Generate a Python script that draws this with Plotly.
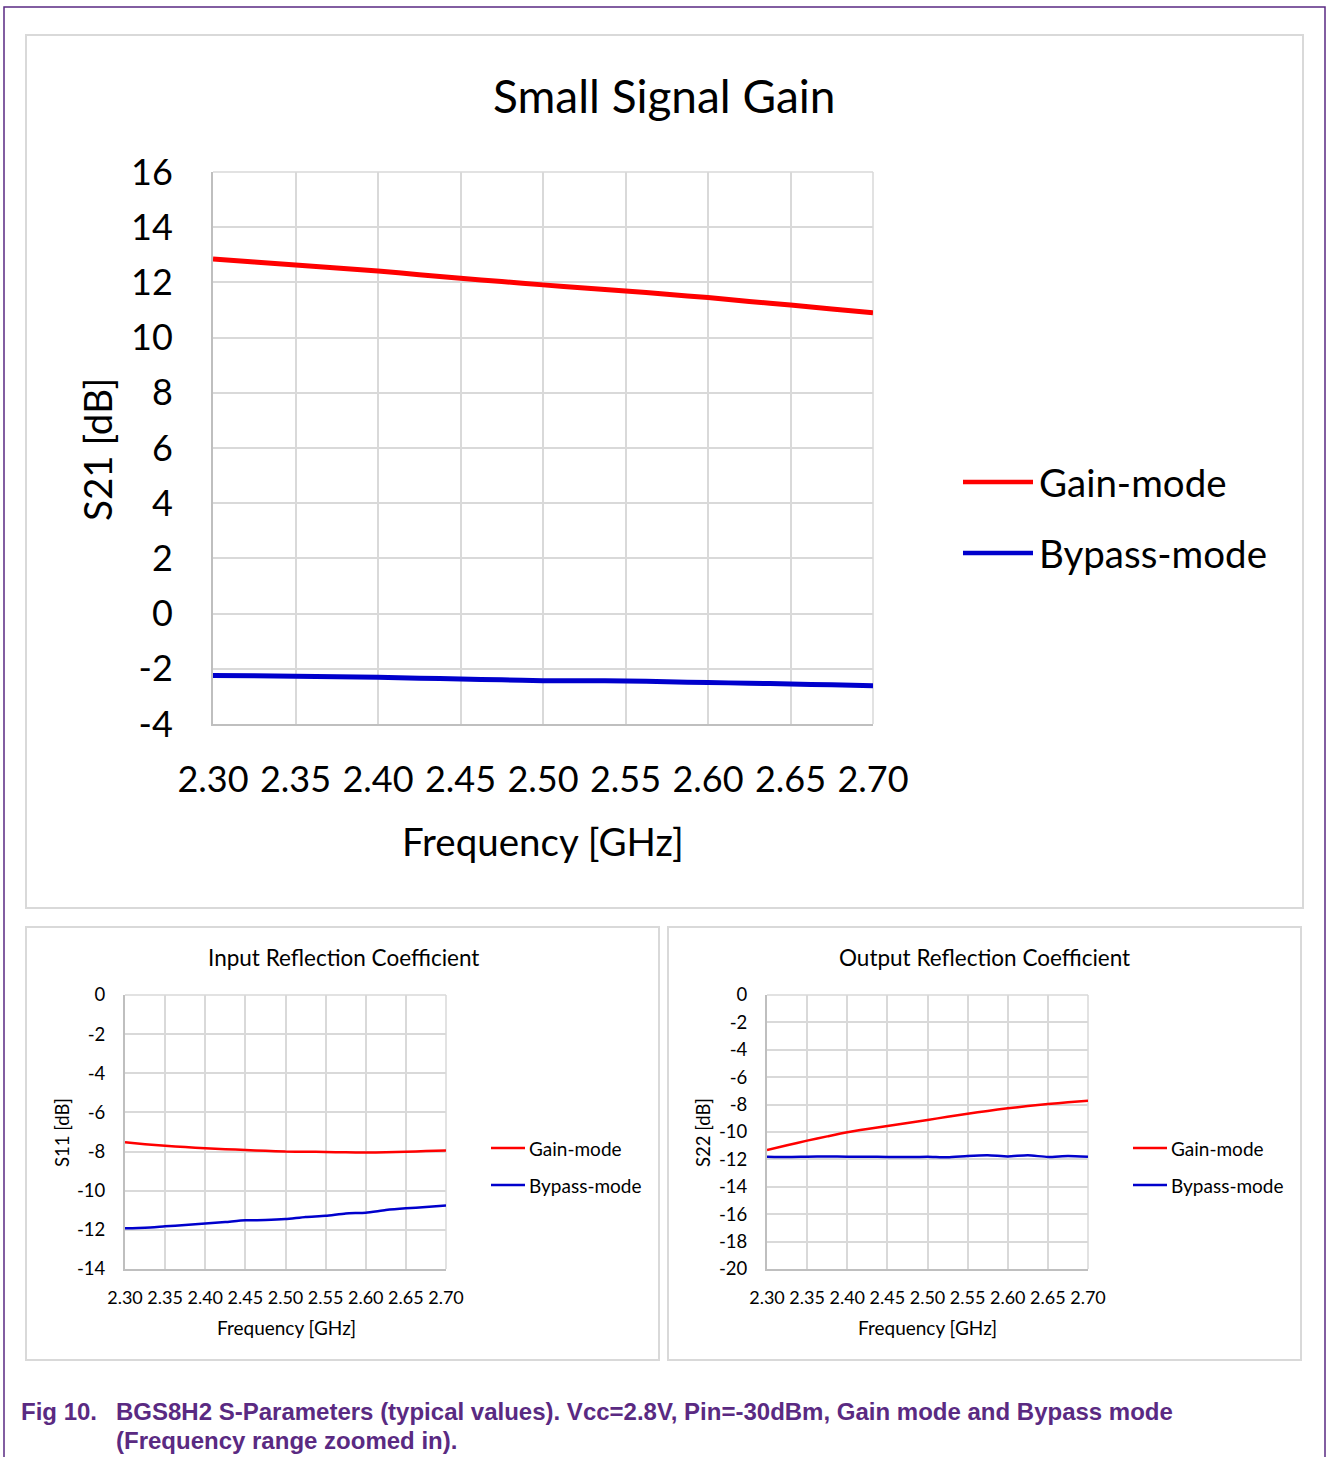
import plotly.graph_objects as go

# ---------------- data ----------------
freq_ghz = [2.300, 2.325, 2.350, 2.375, 2.400, 2.425, 2.450, 2.475, 2.500,
            2.525, 2.550, 2.575, 2.600, 2.625, 2.650, 2.675, 2.700]
series_names = ["Gain-mode", "Bypass-mode"]

s21_gain = [12.85, 12.74, 12.63, 12.52, 12.41, 12.28, 12.15, 12.03, 11.91,
            11.80, 11.69, 11.57, 11.45, 11.31, 11.18, 11.04, 10.90]
s21_bypass = [-2.24, -2.25, -2.27, -2.29, -2.31, -2.34, -2.37, -2.40, -2.43,
              -2.43, -2.44, -2.47, -2.50, -2.52, -2.55, -2.58, -2.61]

s11_gain = [-7.53, -7.62, -7.70, -7.77, -7.83, -7.88, -7.92, -7.96, -8.00,
            -8.01, -8.02, -8.04, -8.05, -8.03, -8.01, -7.97, -7.94]
s11_bypass = [-11.92, -11.89, -11.82, -11.75, -11.68, -11.60, -11.51, -11.50, -11.45,
              -11.34, -11.28, -11.16, -11.12, -10.99, -10.90, -10.83, -10.75]

s22_gain = [-11.31, -10.97, -10.63, -10.32, -10.02, -9.78, -9.56, -9.34, -9.12,
            -8.89, -8.66, -8.46, -8.27, -8.11, -7.96, -7.83, -7.71]
s22_bypass = [-11.80, -11.83, -11.80, -11.78, -11.80, -11.80, -11.83, -11.83, -11.80,
              -11.85, -11.75, -11.70, -11.78, -11.70, -11.82, -11.75, -11.80]

x_ticks = [2.30, 2.35, 2.40, 2.45, 2.50, 2.55, 2.60, 2.65, 2.70]
y_ticks_s21 = [-4, -2, 0, 2, 4, 6, 8, 10, 12, 14, 16]
y_ticks_s11 = [-14, -12, -10, -8, -6, -4, -2, 0]
y_ticks_s22 = [-20, -18, -16, -14, -12, -10, -8, -6, -4, -2, 0]

titles = ["Small Signal Gain", "Input Reflection Coefficient", "Output Reflection Coefficient"]
y_titles = ["S21 [dB]", "S11 [dB]", "S22 [dB]"]
x_title = "Frequency [GHz]"
caption_tag = "Fig 10."
caption_l1 = "BGS8H2 S-Parameters (typical values). Vcc=2.8V, Pin=-30dBm, Gain mode and Bypass mode"
caption_l2 = "(Frequency range zoomed in)."

# ---------------- layout helpers ----------------
W, H = 1326, 1457
RED = "#ff0000"
BLUE = "#0000cc"
GRID = "#d9d9d9"
AXL = "#bfbfbf"
PURPLE = "#5a2a82"
FONT = "Lato, 'Open Sans', sans-serif"


def px(x):
    return x / W


def py(y):
    return 1 - y / H


fig = go.Figure()

colors = [RED, BLUE]
groups = [
    ("x", "y", [s21_gain, s21_bypass], 5),
    ("x2", "y2", [s11_gain, s11_bypass], 2.5),
    ("x3", "y3", [s22_gain, s22_bypass], 2.5),
]
for xa, ya, data, lw in groups:
    for name, vals, c in zip(series_names, data, colors):
        fig.add_trace(go.Scatter(x=freq_ghz, y=vals, mode="lines", name=name,
                                 line=dict(color=c, width=lw, shape="spline", smoothing=0.6),
                                 xaxis=xa, yaxis=ya, showlegend=False, hoverinfo="x+y+name"))


def xaxis(domain, fsize, tlen):
    return dict(domain=domain, range=[2.30, 2.70], tickvals=x_ticks,
                ticktext=[f"{v:.2f}" for v in x_ticks],
                showgrid=True, gridcolor=GRID, gridwidth=1.5, zeroline=False,
                showline=True, linecolor=AXL, linewidth=2, ticks="outside",
                ticklen=tlen, tickcolor="rgba(0,0,0,0)", automargin=False,
                tickfont=dict(family=FONT, size=fsize, color="#000000"), fixedrange=True)


def yaxis(domain, rng, ticks, fsize, tlen):
    return dict(domain=domain, range=rng, tickvals=ticks, ticktext=[str(v) for v in ticks],
                showgrid=True, gridcolor=GRID,
                gridwidth=1.5, zeroline=False, showline=True, linecolor=AXL, linewidth=2,
                ticks="outside", ticklen=tlen, tickcolor="rgba(0,0,0,0)", automargin=False,
                tickfont=dict(family=FONT, size=fsize, color="#000000"), fixedrange=True)


# plot areas (pixel boxes)
boxes = [
    (213, 873, 172, 724),
    (125, 446, 995, 1269),
    (767, 1088, 995, 1269),
]

fig.update_layout(
    xaxis=xaxis([px(213), px(873)], 36, 23),
    yaxis=yaxis([py(724), py(172)], [-4, 16], y_ticks_s21, 36, 31),
    xaxis2=xaxis([px(125), px(446)], 18, 11),
    yaxis2=yaxis([py(1269), py(995)], [-14, 0], y_ticks_s11, 18.5, 14),
    xaxis3=xaxis([px(767), px(1088)], 18, 11),
    yaxis3=yaxis([py(1269), py(995)], [-20, 0], y_ticks_s22, 18.5, 14),
)
fig.layout.xaxis2.anchor = "y2"
fig.layout.yaxis2.anchor = "x2"
fig.layout.xaxis3.anchor = "y3"
fig.layout.yaxis3.anchor = "x3"

shapes = []
# outer purple frame
shapes.append(dict(type="rect", xref="paper", yref="paper", x0=px(4), x1=px(1325),
                   y0=py(1480), y1=py(7), line=dict(color=PURPLE, width=1.5), layer="below"))
# chart borders
for (x0, x1, y0, y1) in [(26, 1303, 35, 908), (26, 659, 927, 1360), (668, 1301, 927, 1360)]:
    shapes.append(dict(type="rect", xref="paper", yref="paper", x0=px(x0), x1=px(x1),
                       y0=py(y1), y1=py(y0), line=dict(color=GRID, width=2), layer="below"))
# top / right frame edges of each plot area (grid-coloured)
for (x0, x1, y0, y1) in boxes:
    shapes.append(dict(type="line", xref="paper", yref="paper", x0=px(x0), x1=px(x1),
                       y0=py(y0), y1=py(y0), line=dict(color=GRID, width=1.5), layer="below"))
    shapes.append(dict(type="line", xref="paper", yref="paper", x0=px(x1), x1=px(x1),
                       y0=py(y1), y1=py(y0), line=dict(color=GRID, width=1.5), layer="below"))

annotations = []
# legends (drawn as key lines + labels)
legend_specs = [
    (963, 1033, 1037, [482, 553], 4.5, 38.5),
    (491, 525, 527, [1148, 1185], 2.5, 19),
    (1133, 1167, 1169, [1148, 1185], 2.5, 19),
]
for lx0, lx1, tx, ys, lw, fs in legend_specs:
    for name, c, yy in zip(series_names, colors, ys):
        shapes.append(dict(type="line", xref="paper", yref="paper", x0=px(lx0), x1=px(lx1),
                           y0=py(yy), y1=py(yy), line=dict(color=c, width=lw)))
        annotations.append(dict(text=name, x=px(tx), y=py(yy), xref="paper", yref="paper",
                                xanchor="left", yanchor="middle", showarrow=False,
                                font=dict(family=FONT, size=fs, color="#000000")))

# titles / axis titles
text_specs = [
    (titles[0], 664, 95, 46, 0),
    (y_titles[0], 97, 450, 38.5, -90),
    (x_title, 543, 841, 38.5, 0),
    (titles[1], 343, 957, 22.5, 0),
    (y_titles[1], 62, 1133, 18.5, -90),
    (x_title, 286, 1327, 19, 0),
    (titles[2], 984, 957, 22.5, 0),
    (y_titles[2], 703, 1133, 18.5, -90),
    (x_title, 927, 1327, 19, 0),
]
for t, x, y, fs, ang in text_specs:
    annotations.append(dict(text=t, x=px(x), y=py(y), xref="paper", yref="paper",
                            xanchor="center", yanchor="middle", showarrow=False, textangle=ang,
                            font=dict(family=FONT, size=fs, color="#000000")))

# caption
cap_font = dict(family="'Liberation Sans', Arial, sans-serif", size=24, color=PURPLE)
for t, x, y in [(caption_tag, 19, 1411), (caption_l1, 114, 1411), (caption_l2, 114, 1440)]:
    annotations.append(dict(text="<b>" + t + "</b>", x=px(x), y=py(y), xref="paper", yref="paper",
                            xanchor="left", yanchor="middle", showarrow=False, font=cap_font))

fig.update_layout(
    width=W, height=H, autosize=False,
    margin=dict(l=0, r=0, t=0, b=0, pad=0, autoexpand=False),
    paper_bgcolor="#ffffff", plot_bgcolor="#ffffff",
    showlegend=False, shapes=shapes, annotations=annotations,
    font=dict(family=FONT, color="#000000"),
)

fig.write_html("out.html", config={"displayModeBar": False},
               post_script="document.body.style.margin='0';document.body.style.padding='0';"
                           "document.body.style.overflow='hidden';")
